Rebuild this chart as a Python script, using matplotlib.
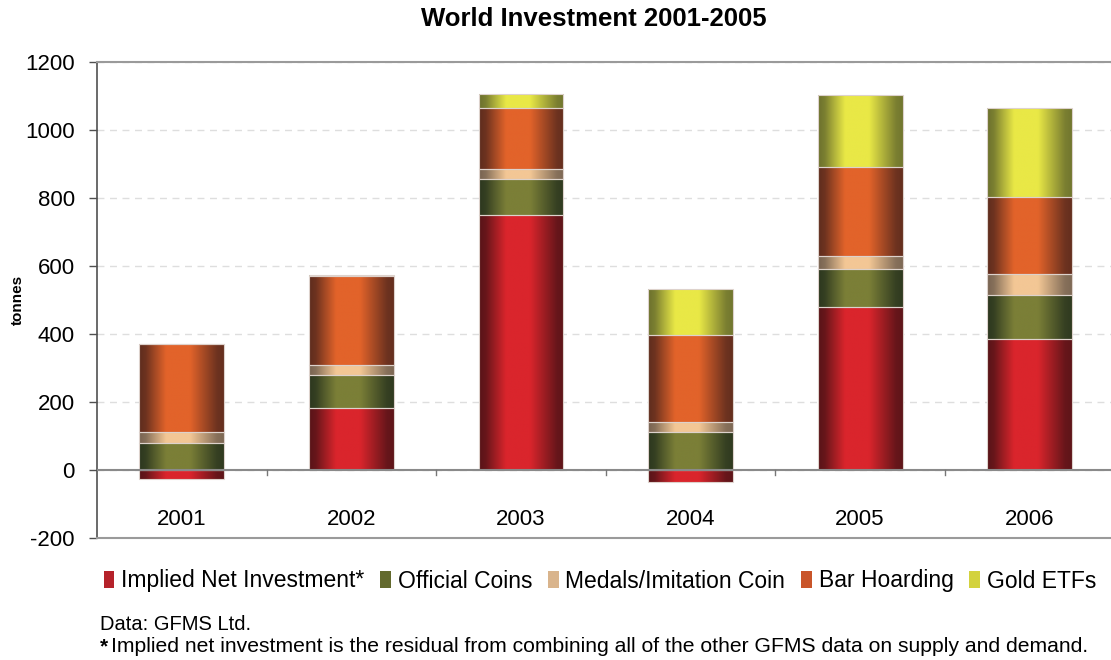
import numpy as np
import matplotlib.pyplot as plt
from matplotlib.colors import LinearSegmentedColormap
from matplotlib.patches import Patch

plt.rcParams["font.family"] = ["Liberation Sans", "DejaVu Sans"]
plt.rcParams["axes.unicode_minus"] = False

years = ["2001", "2002", "2003", "2004", "2005", "2006"]
implied_net = [-26, 182, 750, -36, 478, 386]
official_coins = [79, 96, 106, 111, 114, 128]
medals = [32, 31, 29, 30, 37, 63]
bar_hoarding = [260, 263, 179, 255, 263, 225]
gold_etfs = [0, 3, 41, 135, 211, 262]

series_names = ["Implied Net Investment*", "Official Coins", "Medals/Imitation Coin",
                "Bar Hoarding", "Gold ETFs"]

# (dark edge, bright centre) for the cylinder-like shading
SHADES = [
    ("#581418", "#da252c"),
    ("#2c371f", "#7b7f37"),
    ("#786452", "#f3c795"),
    ("#5e2c1e", "#e2632a"),
    ("#6c712e", "#e9e846"),
]
LEGEND_COLORS = ["#b5222a", "#636a2e", "#d9b48c", "#c9552a", "#d3d23e"]

# brightness across the bar width, left -> right
prof_t = [0.0, 0.08, 0.18, 0.32, 0.6, 0.78, 0.92, 1.0]
prof_v = [0.0, 0.12, 0.5, 1.0, 1.0, 0.5, 0.12, 0.05]
gradient = np.interp(np.linspace(0, 1, 256), prof_t, prof_v).reshape(1, -1)

W, H = 1111, 660
fig = plt.figure(figsize=(W / 100, H / 100), dpi=100)
ax = fig.add_axes([97 / W, (660 - 538) / H, 1017.5 / W, (538 - 62) / H])

x = np.arange(len(years))
width = 0.5

values = [implied_net, official_coins, medals, bar_hoarding, gold_etfs]
base = np.maximum(np.array(implied_net, dtype=float), 0)
for i, vals in enumerate(values):
    vals = np.array(vals, dtype=float)
    if i == 0:
        bottom = np.zeros_like(vals)
    else:
        bottom = base.copy()
        base = base + vals
    cmap = LinearSegmentedColormap.from_list(f"shade{i}", SHADES[i])
    rects = ax.bar(x, vals, width, bottom=bottom, facecolor="none",
                   edgecolor="#ddd2cc", linewidth=0.8, zorder=4)
    for r in rects:
        if r.get_height() == 0:
            continue
        x0, y0 = r.get_x(), r.get_y()
        x1, y1 = x0 + r.get_width(), y0 + r.get_height()
        im = ax.imshow(gradient, cmap=cmap, vmin=0, vmax=1, aspect="auto",
                       extent=(x0, x1, min(y0, y1), max(y0, y1)),
                       interpolation="bilinear", zorder=3)
        im.set_clip_path(r)

ax.set_xlim(-0.5, 5.5)
ax.set_ylim(-200, 1200)
ax.set_aspect("auto")

# axes frame
ax.spines["right"].set_visible(False)
ax.spines["left"].set_color("#505050")
ax.spines["left"].set_linewidth(1.2)
for side in ["top", "bottom"]:
    ax.spines[side].set_color("#9a9a9a")
    ax.spines[side].set_linewidth(1.5)
ax.axhline(0, color="#8a8a8a", linewidth=1.5, zorder=5)

ax.set_yticks(np.arange(-200, 1201, 200))
ax.tick_params(axis="y", direction="out", length=6, width=1, color="#505050",
               labelsize=16, pad=10)
ax.yaxis.grid(True, color="#dedede", linestyle=(0, (5, 4)), linewidth=1)
ax.set_axisbelow(True)

# category labels sit under the zero line, separators as small ticks
ax.set_xticks([])
for xt in x:
    ax.text(xt, -145, years[xt], ha="center", va="center", fontsize=16)
for b in x[:-1] + 0.5:
    ax.plot([b, b], [0, -14], color="#777777", linewidth=1, zorder=5)

ax.set_ylabel("tonnes", fontsize=11, fontweight="bold")
ax.yaxis.set_label_coords(-72 / 1017.5, 0.5)

fig.text(594 / W, 1 - 19 / H, "World Investment 2001-2005", ha="center", va="center",
         fontsize=18.5, fontweight="bold")

handles = [Patch(facecolor=c, edgecolor="none") for c in LEGEND_COLORS]
fig.legend(handles, series_names, loc="center", bbox_to_anchor=(600 / W, 1 - 581 / H),
           ncol=5, frameon=False, fontsize=16.5, handlelength=0.45, handleheight=0.75,
           handletextpad=0.3, columnspacing=0.7, borderpad=0)

fig.text(100 / W, 1 - 624 / H, "Data: GFMS Ltd.", ha="left", va="center", fontsize=14.5)
fig.text(100 / W, 1 - 647 / H, "*", ha="left", va="center", fontsize=15, fontweight="bold")
fig.text(111 / W, 1 - 647 / H,
         "Implied net investment is the residual from combining all of the other GFMS data on supply and demand.",
         ha="left", va="center", fontsize=15.2)

fig.savefig("out.png", dpi=100)
